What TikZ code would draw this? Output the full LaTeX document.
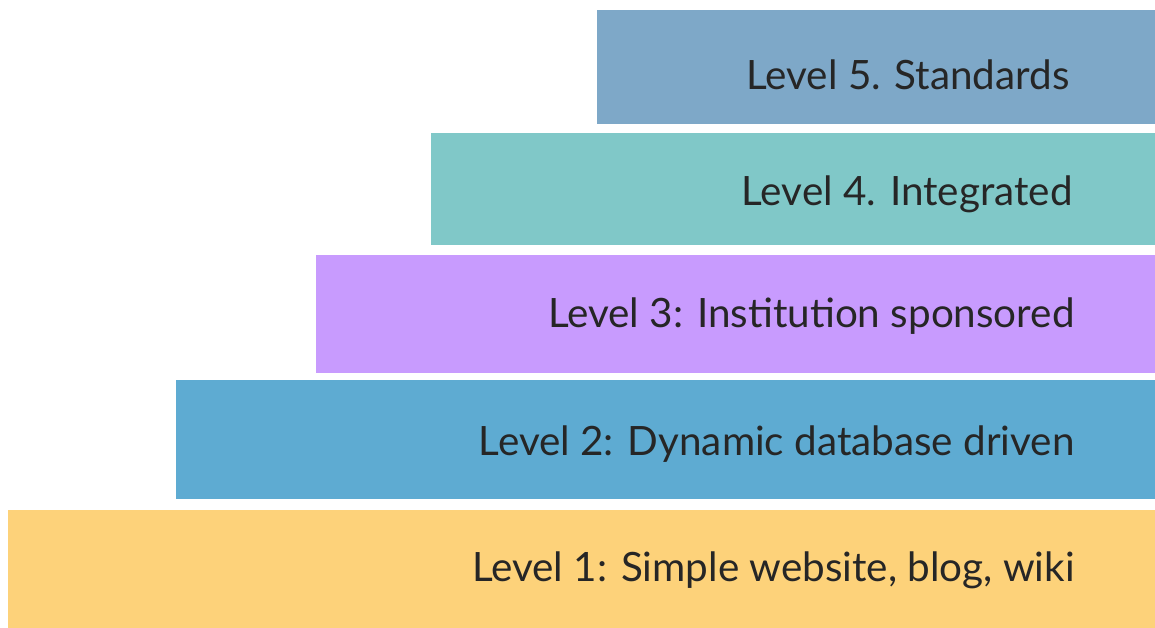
\documentclass[tikz,border=0pt]{standalone}
\usepackage{fontspec}
\setmainfont{Lato}
\definecolor{lvlfive}{HTML}{7EA8C8}
\definecolor{lvlfour}{HTML}{80C8C8}
\definecolor{lvlthree}{HTML}{C89BFE}
\definecolor{lvltwo}{HTML}{5EABD2}
\definecolor{lvlone}{HTML}{FDD27A}
\tikzset{
  levellabel/.style={anchor=base east, inner sep=0pt, text=black!85, font=\fontsize{23}{26}\selectfont}
}

\begin{document}
\begin{tikzpicture}[x=0.02cm, y=-0.02cm]
				\useasboundingbox (0, 0) rectangle (1155, 628);
				\fill[lvlfive] (597, 10) rectangle (1155, 124);
				\node[levellabel] (five) at (1070, 90) {Level 5. Standards};
				\fill[lvlfour] (431, 133) rectangle (1155, 245);
				\node[levellabel] (four) at (1073, 205) {Level 4. Integrated};
				\fill[lvlthree] (316, 255) rectangle (1155, 373);
				\node[levellabel] (three) at (1075, 327) {Level 3: Institution sponsored};
				\fill[lvltwo] (176, 380) rectangle (1155, 499);
				\node[levellabel] (two) at (1075, 455) {Level 2: Dynamic database driven};
				\fill[lvlone] (8, 510) rectangle (1155, 628);
				\node[levellabel] (one) at (1075, 581) {Level 1: Simple website, blog, wiki};
			\end{tikzpicture}
\end{document}
